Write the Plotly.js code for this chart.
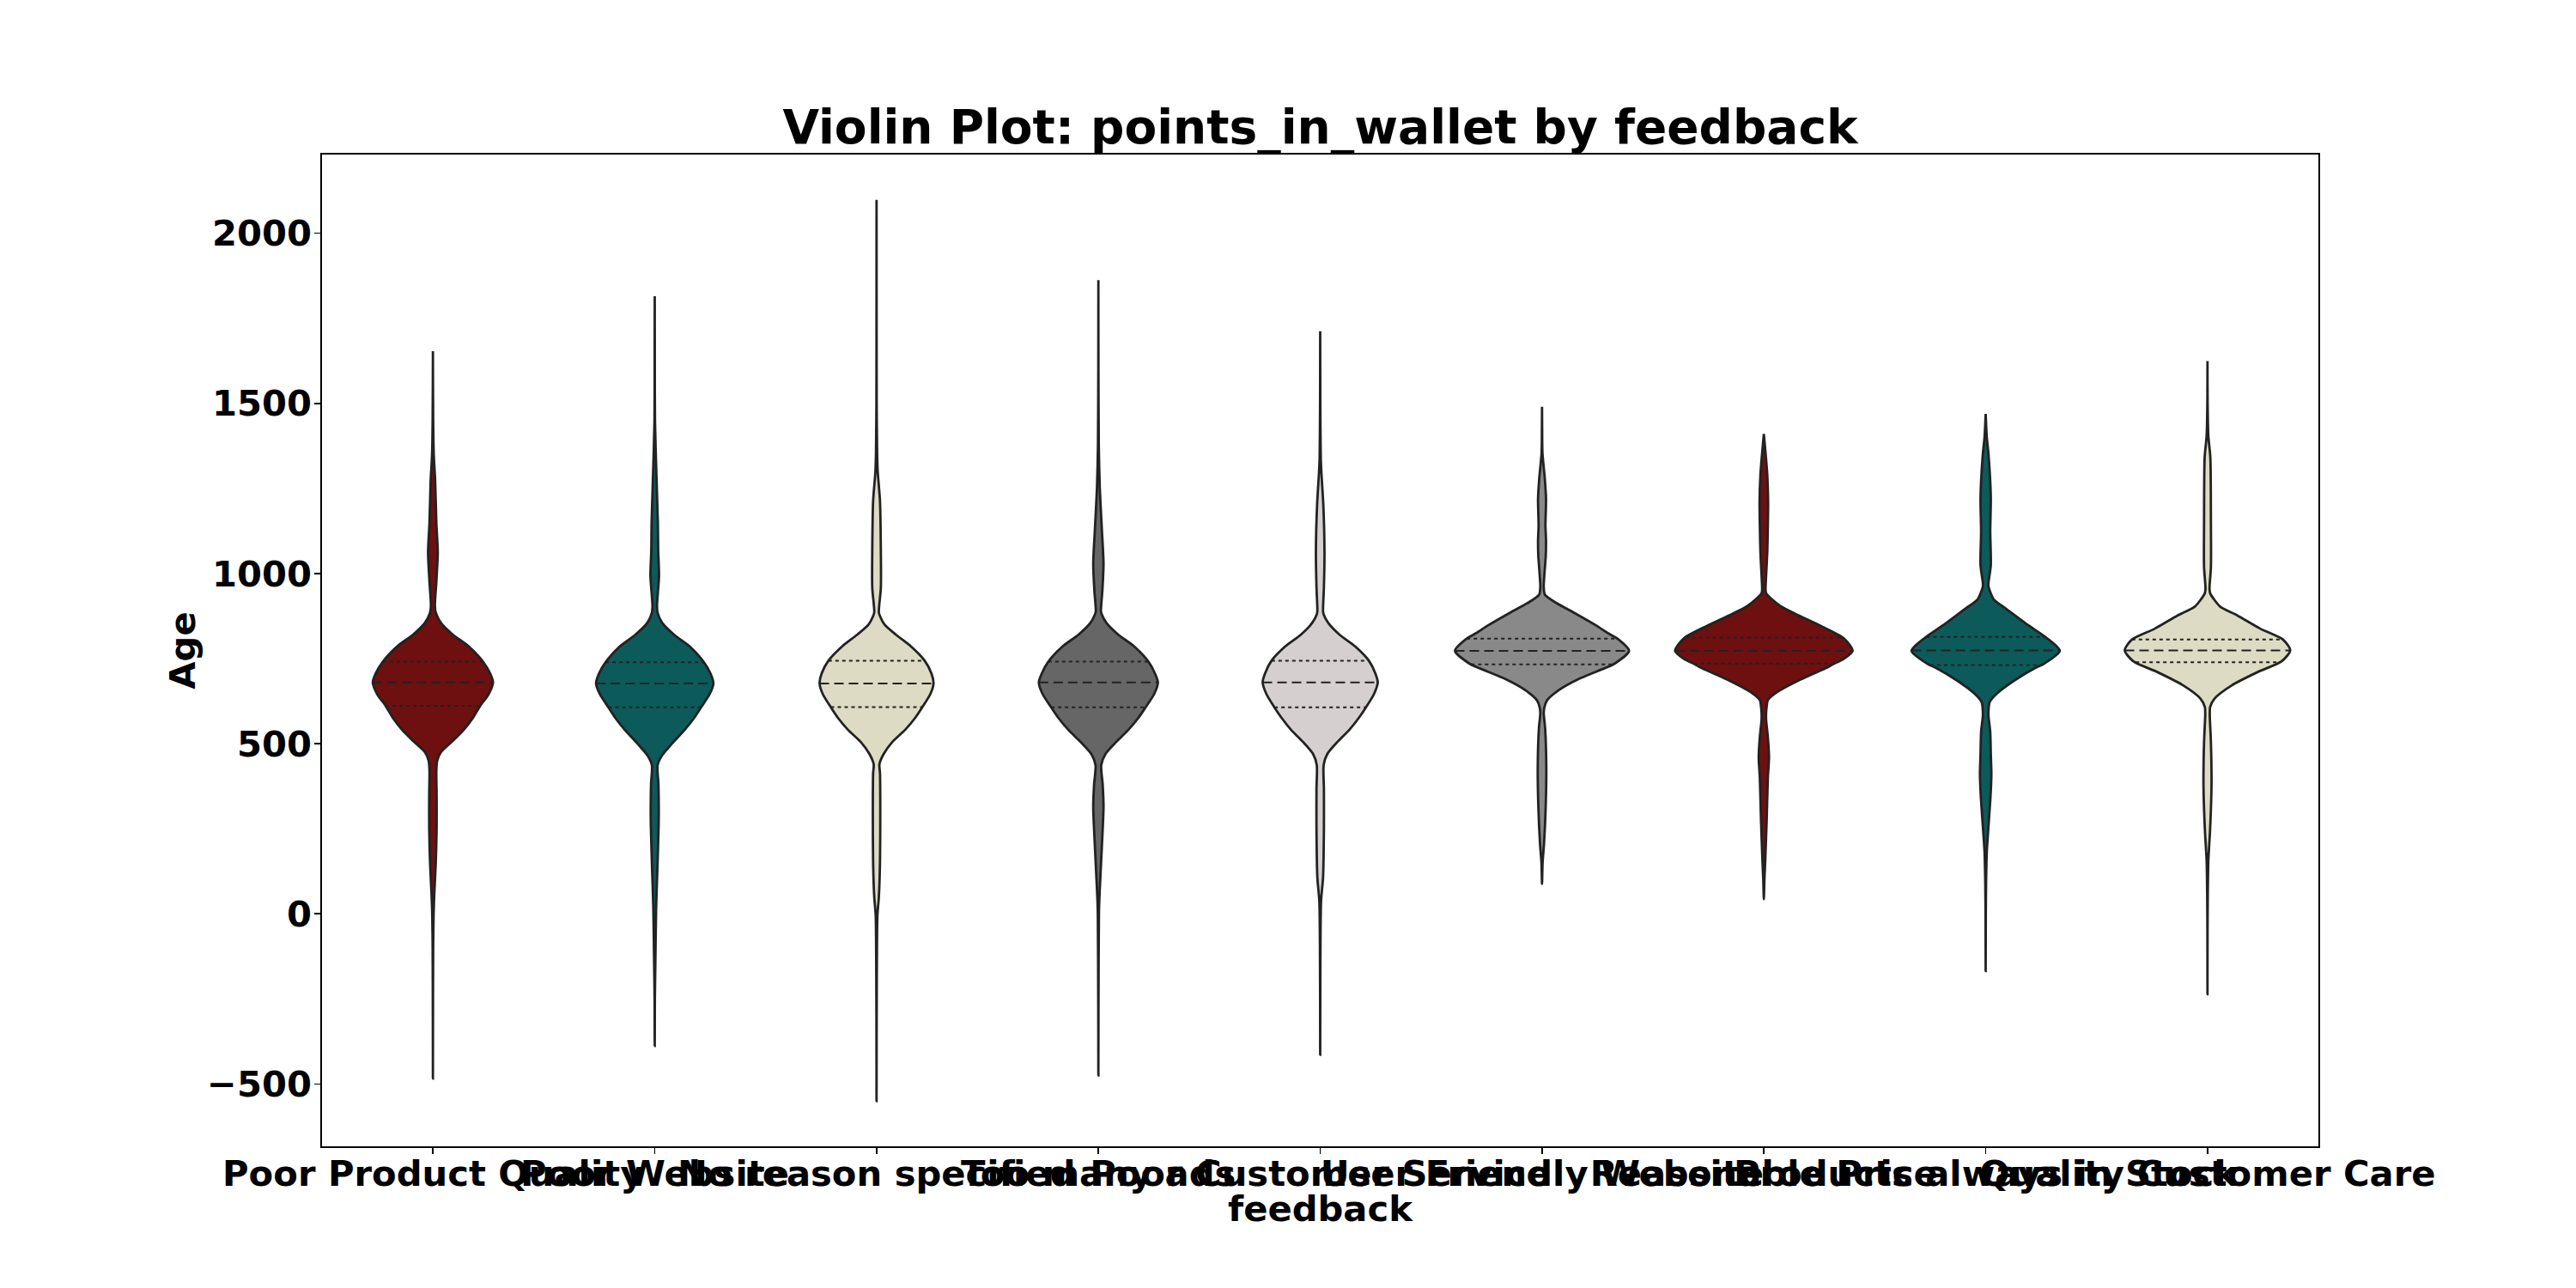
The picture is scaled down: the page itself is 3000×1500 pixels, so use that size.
<!DOCTYPE html>
<html>
<head>
<meta charset="utf-8">
<script src="https://cdn.plot.ly/plotly-3.0.1.min.js"></script>
<style>html,body{margin:0;padding:0;background:#fff;}</style>
</head>
<body>
<div id="chart" style="width:3000px;height:1500px;"></div>
<script>
// ---------------- data ----------------
const categories = ["Poor Product Quality", "Poor Website", "No reason specified", "Too many ads",
  "Poor Customer Service", "User Friendly Website", "Reasonable Price", "Products always in Stock",
  "Quality Customer Care"];
const fillColors = ["#6E1010", "#0D5A5A", "#DDDBC3", "#666666", "#D5CFCF", "#898989", "#6E1010", "#0D5A5A", "#DDDBC3"];

const quartile1 = [611, 607, 607.5, 607, 607, 733, 735, 731, 739];
const medians   = [680, 677, 677, 680, 680, 773, 773, 774, 774];
const quartile3 = [741, 739, 744, 741, 744, 809, 812, 814, 806];

// KDE outline of every violin: value levels and relative density (arbitrary units)
const levels_PoorProductQuality = [-484, -300, -100, 0, 60, 150, 250, 350, 420, 450, 475, 507, 541, 576, 611, 646, 680, 706, 741, 786, 820, 855, 885, 906, 975, 1062, 1149, 1271, 1350, 1450, 1653];
const density_PoorProductQuality = [0, 0.3, 1, 2.5, 5, 10, 13, 13, 12, 15, 28, 68, 108, 140, 165, 195, 210, 200, 175, 125, 70, 28, 10, 7, 12, 17, 12, 8, 3, 1, 0];

const levels_PoorWebsite = [-388, -250, -154, 20, 150, 280, 380, 437, 465, 500, 541, 576, 607, 646, 677, 706, 739, 786, 820, 855, 885, 906, 993, 1070, 1149, 1288, 1445, 1600, 1815];
const density_PoorWebsite = [0, 0.5, 2, 5, 10, 14, 13, 10, 25, 60, 105, 138, 162, 192, 205, 195, 172, 122, 68, 26, 10, 8, 15, 12, 11, 6, 1, 0.3, 0];

const levels_NoReason = [-550, -300, -5, 49, 150, 300, 413, 440, 470, 505, 541, 576, 607.5, 646, 677, 706, 744, 786, 820, 850, 875, 886, 958, 1067, 1213, 1300, 1358, 1500, 1800, 2098];
const density_NoReason = [0, 0.5, 3, 8, 12, 13, 12, 10, 25, 55, 100, 135, 160, 188, 199, 192, 168, 120, 68, 28, 12, 8, 15, 15, 12, 4, 2, 0.5, 0.2, 0];

const levels_TooManyAds = [-475, -250, 0, 55, 194, 315, 380, 437, 470, 505, 541, 576, 607, 646, 680, 706, 741, 786, 820, 855, 880, 889, 950, 1028, 1132, 1250, 1375, 1600, 1862];
const density_TooManyAds = [0, 0.5, 2, 4, 12, 18, 15, 10, 25, 62, 105, 140, 165, 195, 208, 198, 175, 125, 70, 28, 12, 9, 14, 18, 12, 5, 1.5, 0.3, 0];

const levels_PoorCustomerService = [-414, -200, 37, 107, 250, 367, 437, 470, 505, 541, 576, 607, 646, 680, 706, 744, 786, 820, 855, 880, 889, 960, 1062, 1200, 1300, 1340, 1500, 1712];
const density_PoorCustomerService = [0, 0.5, 3, 10, 13, 13, 12, 25, 60, 102, 135, 160, 188, 201, 193, 170, 122, 68, 28, 12, 10, 13, 15, 11, 4, 2, 0.5, 0];

const levels_UserFriendlyWebsite = [88, 150, 206, 319, 431, 544, 590, 606, 628, 657, 690, 713, 735, 773, 809, 826, 848, 882, 916, 938, 961, 1006, 1051, 1096, 1141, 1220, 1276, 1355, 1420, 1490];
const density_UserFriendlyWebsite = [0, 2, 7, 13, 15, 11, 6, 8, 18, 58, 128, 193, 253, 304, 263, 228, 188, 118, 45, 10, 6, 9, 13, 14, 12, 14, 10, 1.5, 0.5, 0];

const levels_ReasonablePrice = [43, 100, 158, 278, 399, 460, 520, 570, 592, 610, 628, 653, 689, 725, 735, 749, 773, 810, 846, 882, 906, 942, 955, 978, 1063, 1140, 1208, 1290, 1364, 1410];
const density_ReasonablePrice = [0, 2, 5, 10, 14, 18, 14, 8, 8, 10, 14, 49, 129, 224, 245, 279, 310, 279, 199, 109, 55, 8, 6, 7, 12, 14, 15, 12, 5, 0];

const levels_ProductsInStock = [-168, 0, 95, 183, 283, 346, 409, 470, 534, 580, 597, 622, 647, 685, 723, 735, 773, 810, 848, 898, 923, 961, 974, 1024, 1124, 1224, 1350, 1400, 1469];
const density_ProductsInStock = [0, 0.5, 1.5, 4, 12, 17, 20, 18, 16, 10, 10, 14, 39, 99, 174, 204, 259, 214, 149, 69, 29, 10, 10, 18, 16, 18, 10, 4, 0];

const levels_QualityCustomerCare = [-236, -50, 53, 156, 246, 375, 504, 580, 594, 607, 632, 671, 710, 742, 774, 806, 838, 877, 903, 941, 954, 1019, 1147, 1340, 1405, 1500, 1624];
const density_QualityCustomerCare = [0, 0.3, 1, 3, 9, 14, 12, 8, 8, 9, 24, 84, 174, 259, 289, 264, 184, 104, 44, 10, 7, 12, 12, 10, 3, 0.5, 0];

const yTickValues = [-500, 0, 500, 1000, 1500, 2000];
const yTickLabels = ["\u2212500", "0", "500", "1000", "1500", "2000"];

// ---------------- build the figure ----------------
const allLevels = [levels_PoorProductQuality, levels_PoorWebsite, levels_NoReason, levels_TooManyAds,
  levels_PoorCustomerService, levels_UserFriendlyWebsite, levels_ReasonablePrice, levels_ProductsInStock,
  levels_QualityCustomerCare];
const allDensity = [density_PoorProductQuality, density_PoorWebsite, density_NoReason, density_TooManyAds,
  density_PoorCustomerService, density_UserFriendlyWebsite, density_ReasonablePrice, density_ProductsInStock,
  density_QualityCustomerCare];

const HALF_WIDTH = 0.4; // seaborn width 0.8
let globalMax = 0;
allDensity.forEach(d => d.forEach(v => { if (v > globalMax) globalMax = v; }));
const scale = HALF_WIDTH / globalMax;

function halfWidthAt(levels, dens, y) {
  for (let k = 0; k < levels.length - 1; k++) {
    if (y >= levels[k] && y <= levels[k + 1]) {
      const t = (y - levels[k]) / (levels[k + 1] - levels[k]);
      return (dens[k] + t * (dens[k + 1] - dens[k])) * scale;
    }
  }
  return 0;
}

const traces = [];
const edge = "#222222";
categories.forEach((cat, i) => {
  const lv = allLevels[i], dn = allDensity[i];
  const xs = [], ys = [];
  for (let k = 0; k < lv.length; k++) { xs.push(i + dn[k] * scale); ys.push(lv[k]); }
  for (let k = lv.length - 1; k >= 0; k--) { xs.push(i - dn[k] * scale); ys.push(lv[k]); }
  traces.push({
    type: "scatter", mode: "lines", x: xs, y: ys, fill: "toself",
    fillcolor: fillColors[i], line: { color: edge, width: 2.8, shape: "spline", smoothing: 0.7 },
    hoverinfo: "skip", showlegend: false, name: cat
  });
  const qs = [quartile1[i], medians[i], quartile3[i]];
  const dashes = ["4px,4px", "11px,6px", "4px,4px"];
  qs.forEach((q, j) => {
    const hw = halfWidthAt(lv, dn, q);
    traces.push({
      type: "scatter", mode: "lines", x: [i - hw, i + hw], y: [q, q],
      line: { color: edge, width: 2, dash: dashes[j] }, hoverinfo: "skip", showlegend: false
    });
  });
});

const layout = {
  width: 3000, height: 1500,
  margin: { l: 375, r: 300, t: 180, b: 165, pad: 0 },
  paper_bgcolor: "#ffffff", plot_bgcolor: "#ffffff",
  showlegend: false,
  font: { family: "DejaVu Sans", color: "#000000" },
  title: {
    text: "Violin Plot: points_in_wallet by feedback",
    font: { family: "DejaVu Sans", size: 55, weight: "bold", color: "#000" },
    x: 0.5, xref: "paper", xanchor: "center",
    y: 1 - 167 / 1500, yref: "container", yanchor: "bottom"
  },
  xaxis: {
    range: [-0.5, 8.5], tickmode: "array", tickvals: categories.map((c, i) => i), ticktext: categories,
    tickangle: 0, ticks: "outside", ticklen: 7, tickwidth: 1.7, tickcolor: "#000",
    ticklabelstandoff: -13,
    showline: true, linecolor: "#000", linewidth: 1.7, mirror: true,
    showgrid: false, zeroline: false,
    tickfont: { family: "DejaVu Sans", size: 41.7, weight: "bold", color: "#000" },
    automargin: false
  },
  yaxis: {
    range: [-683, 2231], tickmode: "array", tickvals: yTickValues, ticktext: yTickLabels,
    ticks: "outside", ticklen: 7, tickwidth: 1.7, tickcolor: "#000",
    ticklabelstandoff: -5,
    showline: true, linecolor: "#000", linewidth: 1.7, mirror: true,
    showgrid: false, zeroline: false,
    tickfont: { family: "DejaVu Sans", size: 41.7, weight: "bold", color: "#000" },
    title: { text: "Age", font: { family: "DejaVu Sans", size: 41.7, weight: "bold", color: "#000" }, standoff: 0 },
    automargin: false
  },
  annotations: [{
    text: "feedback", xref: "paper", yref: "paper", x: 0.5, y: -0.0632,
    xanchor: "center", yanchor: "middle", showarrow: false,
    font: { family: "DejaVu Sans", size: 41.7, weight: "bold", color: "#000" }
  }]
};

Plotly.newPlot("chart", traces, layout, { displayModeBar: false, staticPlot: true });
</script>
</body>
</html>
